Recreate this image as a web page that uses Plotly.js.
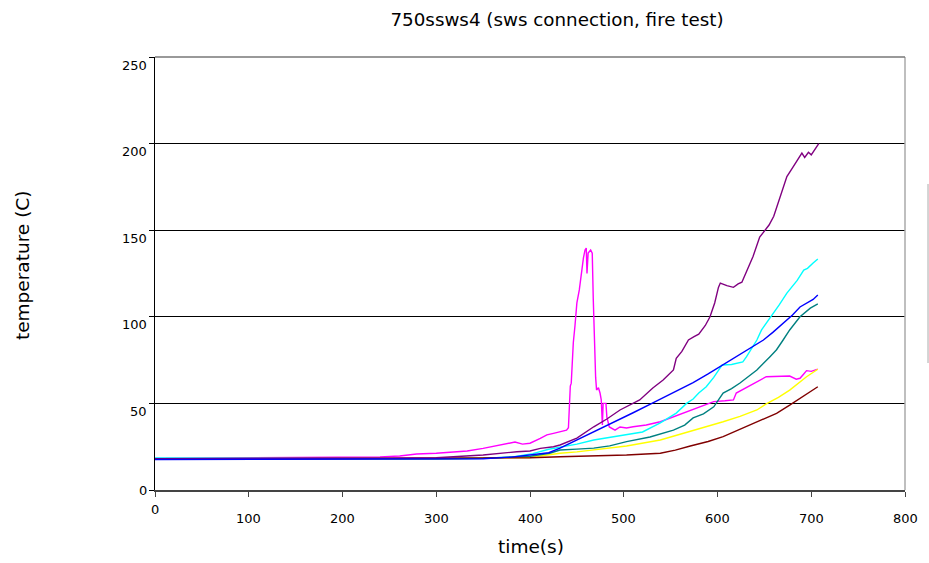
<!DOCTYPE html>
<html>
<head>
<meta charset="utf-8">
<script src="https://cdn.plot.ly/plotly-3.0.1.min.js"></script>
<style>html,body{margin:0;padding:0;background:#fff;}#chart{width:929px;height:563px;}</style>
</head>
<body>
<div id="chart"></div>
<script>
// ---- data ----
var chartTitle = "750ssws4 (sws connection, fire test)";
var xTitle = "time(s)";
var yTitle = "temperature (C)";
var xTickVals = [0, 100, 200, 300, 400, 500, 600, 700, 800];
var xTickLabels = ["0", "100", "200", "300", "400", "500", "600", "700", "800"];
var yTickVals = [0, 50, 100, 150, 200, 250];
var yTickLabels = ["0", "50", "100", "150", "200", "250"];

var tMagenta = [0, 50, 100, 150, 200, 240, 261, 279, 300, 315, 333, 350, 368, 384, 392, 400, 411, 418, 425, 432, 439, 441, 442, 443, 444, 445.5, 446.2, 448, 450, 452.6, 453.5, 455, 457, 458.7, 460, 460.8, 462, 464.7, 466.4, 467.5, 468.3, 470, 471, 473, 474.7, 476, 477.2, 478, 481, 482, 484.6, 490.7, 496, 503, 510, 524, 539, 553, 567, 576, 585, 596, 608, 617, 620, 630, 642, 652, 660, 670, 677, 684, 688, 692, 695, 700, 707];
var vMagenta = [18.2, 18.3, 18.4, 18.6, 18.9, 19.1, 19.6, 20.8, 21.2, 21.8, 22.5, 24, 26, 27.7, 26.5, 27, 29.8, 31.8, 32.7, 33.5, 34.6, 36, 56, 60, 61.7, 83.7, 85, 95, 108, 115.5, 119.5, 127, 134, 138.6, 139.7, 125, 136.8, 138.6, 136.8, 110, 92, 65, 57.7, 59, 56, 52, 37.5, 50, 50, 42, 36.4, 34.6, 36.4, 35.8, 36.5, 37.5, 39.4, 42.3, 45.2, 47.3, 49, 51, 51.5, 52, 56, 59, 62.5, 65.4, 65.5, 65.5, 65.8, 64, 64.5, 67, 68.9, 68.5, 69.8];

var tPurple = [0, 50, 100, 150, 200, 250, 300, 315, 350, 386, 400, 411, 425, 432, 450, 468, 482, 496, 517, 531, 542, 553, 556, 562, 569, 575, 580, 587, 592, 597, 601, 603, 610, 617, 622, 626, 632, 638, 645, 651, 655, 660, 667, 674, 680, 685, 690, 693, 697, 700, 704, 708];
var vPurple = [17.9, 17.9, 18, 18, 18.1, 18.3, 18.6, 19, 20.2, 22.1, 22.5, 24, 25, 26, 30, 36.5, 41, 46.2, 52, 58.9, 63.5, 69.3, 76, 80, 86.6, 88.5, 90, 95, 100, 108, 117, 119.5, 118, 117, 119, 120, 127, 135, 146, 150, 153, 158, 169, 181, 186, 190, 194.5, 192, 195, 193.5, 197, 200];

var tCyan = [0, 50, 100, 150, 200, 250, 300, 350, 380, 403, 420, 432, 450, 468, 485, 503, 520, 539, 556, 567, 574, 580, 588, 596, 603, 605, 615, 627, 631, 642, 647, 653, 659, 666, 674, 685, 692, 696, 702, 707];
var vCyan = [18.5, 18.5, 18.4, 18.3, 18.2, 18.1, 18, 18.3, 19, 21, 23.5, 24.8, 26.5, 28.9, 30.5, 31.8, 33.5, 38.7, 44.4, 50, 52.5, 56, 59.6, 65, 71, 72.2, 72.5, 74, 77, 86.6, 92.4, 97, 101, 107, 113.7, 121, 127, 128, 131, 133.4];

var tBlue = [0, 100, 200, 300, 350, 380, 403, 420, 432, 450, 470, 490, 510, 530, 550, 574, 590, 606, 627, 649, 659, 670, 680, 688, 695, 702, 707];
var vBlue = [17.6, 17.6, 17.6, 17.7, 18, 19, 20.5, 21.5, 24.2, 28.8, 34, 39.3, 44.6, 50, 55.3, 62, 67, 72.2, 79, 86.6, 91, 96, 101, 105.7, 108, 110, 112.6];

var tTeal = [0, 100, 200, 300, 350, 400, 421, 432, 450, 468, 485, 503, 528, 553, 565, 574, 585, 596, 606, 615, 624, 633, 642, 656, 663, 670, 677, 688, 699, 707];
var vTeal = [17.8, 17.8, 17.9, 18, 18.3, 19.5, 21.2, 23.1, 23.6, 24.2, 25.5, 27.9, 30.6, 34.6, 37.5, 41.6, 44, 48, 56, 58.5, 61.8, 65.5, 69.3, 77, 81, 86.6, 92.4, 100, 105, 107.4];

var tYellow = [0, 100, 200, 300, 400, 432, 450, 475, 503, 539, 574, 590, 606, 624, 642, 652, 665, 677, 686, 695, 707];
var vYellow = [17.8, 17.8, 17.9, 18, 18.8, 21.2, 22, 23.5, 25.4, 28.9, 34.2, 37, 39.4, 42.5, 46.2, 49.7, 53.5, 57.7, 61.5, 65.4, 69.7];

var tDarkRed = [0, 100, 200, 300, 400, 432, 470, 503, 539, 555, 571, 590, 606, 624, 642, 663, 677, 691, 700, 707];
var vDarkRed = [18, 18.1, 18.2, 18.3, 18.6, 19.2, 19.6, 20.2, 21.2, 23, 25.4, 28, 30.8, 35, 39.4, 44.3, 49, 53.9, 57, 59.6];

// ---- chart ----
function line(x, y, color) {
  return {x: x, y: y, type: 'scatter', mode: 'lines', line: {color: color, width: 1.4}, hoverinfo: 'skip', showlegend: false};
}
var traces = [
  line(tMagenta, vMagenta, '#FF00FF'),
  line(tCyan, vCyan, '#00FFFF'),
  line(tYellow, vYellow, '#FFFF00'),
  line(tTeal, vTeal, '#008080'),
  line(tDarkRed, vDarkRed, '#800000'),
  line(tPurple, vPurple, '#800080'),
  line(tBlue, vBlue, '#0000FF')
];

var font = 'DejaVu Sans, sans-serif';
var annotations = [];
xTickVals.forEach(function (v, i) {
  annotations.push({x: v, xref: 'x', y: 0, yref: 'paper', text: xTickLabels[i], showarrow: false,
    xanchor: 'center', yanchor: 'middle', yshift: (i === 0 ? -19 : -28), font: {family: font, size: 13, color: '#000'}});
});
yTickVals.forEach(function (v, i) {
  annotations.push({x: 0, xref: 'paper', y: v, yref: 'y', text: yTickLabels[i], showarrow: false,
    xanchor: 'right', yanchor: 'middle', xshift: -6, yshift: (i === 0 ? 0 : -8), font: {family: font, size: 13, color: '#000'}});
});
annotations.push({x: 0.5013, xref: 'paper', y: -0.1316, yref: 'paper', text: xTitle, showarrow: false,
  xanchor: 'center', yanchor: 'middle', font: {family: font, size: 18.5, color: '#000'}});
annotations.push({x: -0.1773, xref: 'paper', y: 0.5196, yref: 'paper', text: yTitle, showarrow: false, textangle: -90,
  xanchor: 'center', yanchor: 'middle', font: {family: font, size: 18.5, color: '#000'}});

var layout = {
  width: 929, height: 563,
  margin: {l: 155, r: 24, t: 57, b: 73},
  paper_bgcolor: '#fff', plot_bgcolor: '#fff',
  title: {text: chartTitle, x: 0.5996, xref: 'container', xanchor: 'center', y: 0.9645, yref: 'container', yanchor: 'middle',
    font: {family: font, size: 18.3, color: '#000'}},
  font: {family: font, color: '#000'},
  xaxis: {range: [0, 800], tickvals: xTickVals, showticklabels: false, ticks: 'outside', ticklen: 5, tickcolor: '#444',
    showgrid: false, zeroline: false, showline: true, linecolor: '#444', linewidth: 1.5, fixedrange: true},
  yaxis: {range: [0, 250], tickvals: yTickVals, showticklabels: false, ticks: 'outside', ticklen: 5, tickcolor: '#000',
    showgrid: true, gridcolor: '#000', gridwidth: 1, zeroline: false, showline: true, linecolor: '#000', linewidth: 1.2, fixedrange: true},
  annotations: annotations,
  shapes: [
    {type: 'line', xref: 'paper', yref: 'paper', x0: 1, x1: 1, y0: 0, y1: 1, line: {color: '#aaaaaa', width: 1.5}},
    {type: 'line', xref: 'paper', yref: 'paper', x0: 0, x1: 1, y0: 1, y1: 1, line: {color: '#777777', width: 1.5}},
    {type: 'line', xref: 'paper', yref: 'paper', x0: 1.0307, x1: 1.0307, y0: 0.2933, y1: 0.7067, line: {color: '#aaaaaa', width: 1}}
  ]
};

Plotly.newPlot('chart', traces, layout, {staticPlot: true, displayModeBar: false});
</script>
</body>
</html>
